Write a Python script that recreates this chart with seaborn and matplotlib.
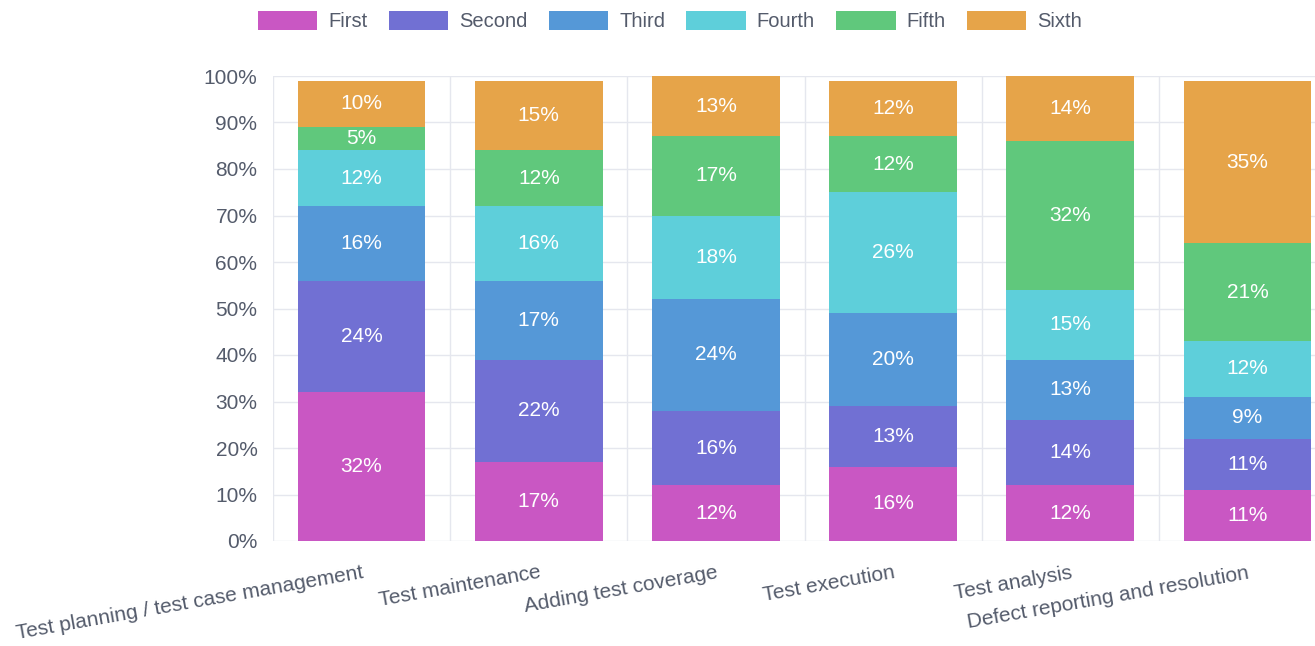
import numpy as np
import pandas as pd
import matplotlib
matplotlib.use("Agg")
import matplotlib.pyplot as plt
from matplotlib.patches import Patch
from matplotlib.ticker import FixedLocator
import seaborn as sns

# categories and share of each rank (bottom to top)
tasks = ["Test planning / test case management", "Test maintenance",
         "Adding test coverage", "Test execution", "Test analysis",
         "Defect reporting and resolution"]
ranks = ["First", "Second", "Third", "Fourth", "Fifth", "Sixth"]
first = [32, 17, 12, 16, 12, 11]
second = [24, 22, 16, 13, 14, 11]
third = [16, 17, 24, 20, 13, 9]
fourth = [12, 16, 18, 26, 15, 12]
fifth = [5, 12, 17, 12, 32, 21]
sixth = [10, 15, 13, 12, 14, 35]
colors = ["#c957c3", "#7170d3", "#5598d7", "#5ecfda", "#60c87c", "#e6a449"]

sns.set_style("white")
plt.rcParams["font.family"] = ["Liberation Sans", "DejaVu Sans"]

text_color = "#545b6b"
grid_color = "#e5e7ee"
fs = 15

df = pd.DataFrame({"task": tasks, "First": first, "Second": second, "Third": third,
                   "Fourth": fourth, "Fifth": fifth, "Sixth": sixth})
cum = df[ranks].cumsum(axis=1)
cum["task"] = tasks

fig = plt.figure(figsize=(13.15, 6.46), dpi=100)
ax = fig.add_axes([273 / 1315, 1 - 541 / 646, 1063 / 1315, 465 / 646])

# stacked look: draw cumulative totals from the top segment down
for i in range(len(ranks) - 1, -1, -1):
    sns.barplot(data=cum, x="task", y=ranks[i], order=tasks, color=colors[i],
                saturation=1, width=0.72, errorbar=None, linewidth=0, ax=ax)

for j in range(len(tasks)):
    for r in ranks:
        v = df.loc[j, r]
        ax.text(j, cum.loc[j, r] - v / 2, f"{v}%", ha="center", va="center",
                color="white", fontsize=fs)

ax.set_xlim(-0.5, 5.5)
ax.set_ylim(0, 100)
ax.set_xlabel("")
ax.set_ylabel("")
ax.set_yticks(range(0, 101, 10))
ax.set_yticklabels([f"{v}%" for v in range(0, 101, 10)])
ax.set_xticks(range(len(tasks)))
ax.set_xticklabels(tasks)
plt.setp(ax.get_xticklabels(), rotation=10, ha="right", va="top",
         rotation_mode="anchor", fontsize=fs, color=text_color)
ax.xaxis.set_minor_locator(FixedLocator(np.arange(-0.5, 6, 1)))
ax.tick_params(axis="x", which="major", length=0, pad=16)
ax.tick_params(axis="x", which="minor", length=7.2, color=grid_color, width=1)
ax.tick_params(axis="y", length=7.2, color=grid_color, width=1, pad=4,
               labelsize=fs, labelcolor=text_color)
ax.grid(axis="y", color=grid_color, linewidth=1)
ax.grid(axis="x", which="minor", color=grid_color, linewidth=1)
ax.set_axisbelow(True)
for s in ax.spines.values():
    s.set_visible(False)

handles = [Patch(facecolor=c, edgecolor="none", label=r) for c, r in zip(colors, ranks)]
fig.legend(handles=handles, loc="center", bbox_to_anchor=(670 / 1315, 1 - 21 / 646),
           ncol=6, frameon=False, fontsize=14.5, handlelength=2.95, handleheight=1.1,
           handletextpad=0.55, columnspacing=1.05, labelcolor=text_color)

fig.savefig("out.png", dpi=100)
